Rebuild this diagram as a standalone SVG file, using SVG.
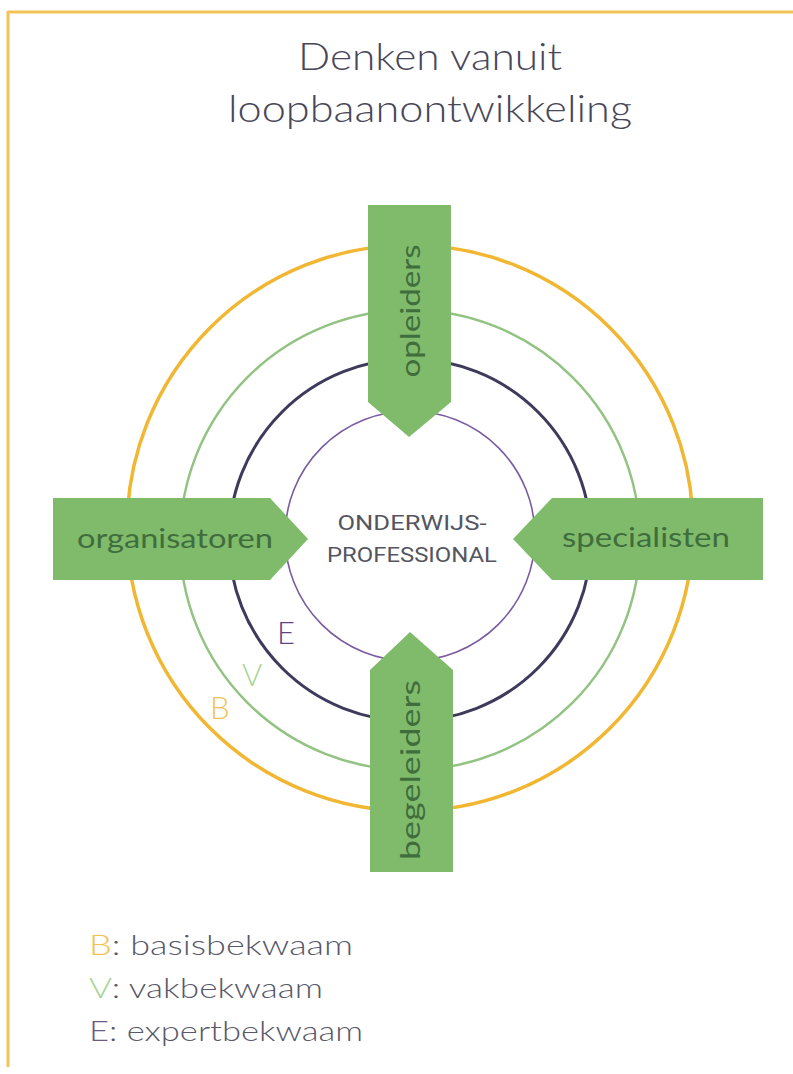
<svg xmlns="http://www.w3.org/2000/svg" width="793" height="1074" viewBox="0 0 793 1074">
<style>
.t{font-family:Lato,"Open Sans","Liberation Sans",sans-serif}
.title{font-size:38px;fill:#474759;font-weight:300}
.arrow{fill:#80bb6c}
.alabel{font-size:27px;fill:#3f6e3c}
.center{font-family:Roboto,"Liberation Sans",sans-serif;font-size:20px;fill:#55555f}
.ring{fill:none}
.leg{font-size:27px;fill:#585868;font-weight:300}
</style>
<rect x="0" y="0" width="793" height="1074" fill="#ffffff"/>
<g id="frame">
<line x1="8" y1="12" x2="793" y2="12" stroke="#f3c355" stroke-width="3"/>
<line x1="8" y1="11" x2="8" y2="1067" stroke="#f3c355" stroke-width="3"/>
</g>
<g id="title">
<text class="t title" x="430" y="70" text-anchor="middle" textLength="264" lengthAdjust="spacingAndGlyphs">Denken vanuit</text>
<text class="t title" x="430" y="122" text-anchor="middle" textLength="404" lengthAdjust="spacingAndGlyphs">loopbaanontwikkeling</text>
</g>
<g id="rings">
<circle id="ring-B" class="ring" cx="410" cy="528" r="283" stroke="#f1b733" stroke-width="3.5"/>
<circle id="ring-V" class="ring" cx="410" cy="540" r="230" stroke="#93c383" stroke-width="2.5"/>
<circle id="ring-E" class="ring" cx="410" cy="540" r="181" stroke="#3d3a5c" stroke-width="3"/>
<circle id="ring-core" class="ring" cx="410" cy="536" r="125" stroke="#7a5ba0" stroke-width="1.6"/>
</g>
<g id="ring-labels">
<text class="t" x="277" y="644" font-size="31" fill="#5e4684" font-weight="300">E</text>
<text class="t" x="242" y="686" font-size="31" fill="#a6d392" font-weight="300">V</text>
<text class="t" x="210" y="719" font-size="31" fill="#f2c253" font-weight="300">B</text>
</g>
<g id="connectors"></g>
<g id="node-organisatoren">
<path class="arrow" d="M53,498 L270,498 L308,539 L270,580 L53,580 Z"/>
<text class="t alabel" x="175" y="548" text-anchor="middle" textLength="196" lengthAdjust="spacingAndGlyphs">organisatoren</text>
</g>
<g id="node-specialisten">
<path class="arrow" d="M763,498 L552,498 L513,539 L552,580 L763,580 Z"/>
<text class="t alabel" x="646" y="547" text-anchor="middle" textLength="168" lengthAdjust="spacingAndGlyphs">specialisten</text>
</g>
<g id="node-opleiders">
<path class="arrow" d="M368,205 L451,205 L451,402 L409,437 L368,402 Z"/>
<text class="t alabel" transform="translate(420,311) rotate(-90)" x="0" y="0" text-anchor="middle" textLength="133" lengthAdjust="spacingAndGlyphs">opleiders</text>
</g>
<g id="node-begeleiders">
<path class="arrow" d="M410,632 L453,670 L453,872 L370,872 L370,670 Z"/>
<text class="t alabel" transform="translate(420,770) rotate(-90)" x="0" y="0" text-anchor="middle" textLength="180" lengthAdjust="spacingAndGlyphs">begeleiders</text>
</g>
<g id="node-center">
<text class="center" x="412" y="530" text-anchor="middle" textLength="149" lengthAdjust="spacingAndGlyphs">ONDERWIJS-</text>
<text class="center" x="412" y="562" text-anchor="middle" textLength="170" lengthAdjust="spacingAndGlyphs">PROFESSIONAL</text>
</g>
<g id="legend">
<text class="t leg" x="89" y="955" textLength="264" lengthAdjust="spacingAndGlyphs"><tspan fill="#f2c253">B</tspan>: basisbekwaam</text>
<text class="t leg" x="89" y="998" textLength="234" lengthAdjust="spacingAndGlyphs"><tspan fill="#a6d392">V</tspan>: vakbekwaam</text>
<text class="t leg" x="89" y="1041" textLength="274" lengthAdjust="spacingAndGlyphs"><tspan fill="#6a5a86">E</tspan>: expertbekwaam</text>
</g>
</svg>
